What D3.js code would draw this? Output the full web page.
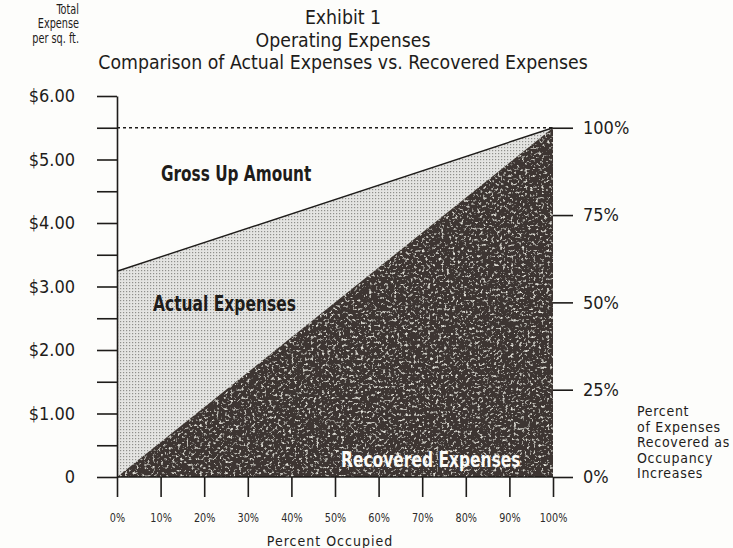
<!DOCTYPE html>
<html>
<head>
<meta charset="utf-8">
<script src="https://cdn.jsdelivr.net/npm/d3@7"></script>
<style>
  body { margin: 0; background: #fdfdfb; }
  svg text { font-family: "DejaVu Sans Condensed", "DejaVu Sans", sans-serif; fill: #1e1c1a; }
  .axis path, .axis line { stroke: #1e1c1a; stroke-width: 1.6; }
</style>
</head>
<body>
<div id="chart"></div>
<script>
// occupancy (percent) at the two ends of the lines
var occupancy = [0, 100];
// total actual expense per sq. ft. at each occupancy
var actualExpense = [3.24, 5.5];
// expense recovered from tenants at each occupancy
var recoveredExpense = [0, 5.5];
var grossUpLevel = 5.5;

var dollarTicks = [0, 0.5, 1, 1.5, 2, 2.5, 3, 3.5, 4, 4.5, 5, 5.5, 6];
var dollarLabels = {0: "0", 1: "$1.00", 2: "$2.00", 3: "$3.00", 4: "$4.00", 5: "$5.00", 6: "$6.00"};
var occTicks = [0, 10, 20, 30, 40, 50, 60, 70, 80, 90, 100];
var recoveredTicks = [0, 25, 50, 75, 100];

var width = 733, height = 548;

// squeeze text horizontally (the original uses a very condensed face)
function condense(sel, k) {
  sel.each(function() {
    var t = d3.select(this);
    var x0 = +t.attr("x") || 0;
    t.attr("x", x0 / k).attr("transform", "scale(" + k + ",1)");
  });
}

var svg = d3.select("#chart").append("svg")
    .attr("width", width)
    .attr("height", height);

var x = d3.scaleLinear().domain([0, 100]).range([117, 553]);
var y = d3.scaleLinear().domain([0, 6]).range([477, 96]);
// right axis: percent recovered, 100% = gross up level
var yPct = d3.scaleLinear().domain([0, 100]).range([y(0), y(grossUpLevel)]);

var defs = svg.append("defs");
var dots = defs.append("pattern")
    .attr("id", "stipple")
    .attr("width", 3).attr("height", 3)
    .attr("patternUnits", "userSpaceOnUse");
dots.append("rect").attr("width", 3).attr("height", 3).attr("fill", "#e4e4e2");
dots.append("rect").attr("width", 1.2).attr("height", 1.2).attr("fill", "#8f8f8c");

var f = defs.append("filter").attr("id", "speck").attr("x", 0).attr("y", 0).attr("width", 1).attr("height", 1);
f.append("feTurbulence").attr("type", "fractalNoise").attr("baseFrequency", 0.36)
  .attr("numOctaves", 3).attr("seed", 11).attr("result", "n");
f.append("feColorMatrix").attr("in", "n").attr("type", "matrix")
  .attr("values", "0 0 0 0 0.8  0 0 0 0 0.78  0 0 0 0 0.72  4 0 0 0 -2.3")
  .attr("result", "w");
f.append("feComposite").attr("in", "w").attr("in2", "SourceGraphic").attr("operator", "in").attr("result", "s");
var fm = f.append("feMerge");
fm.append("feMergeNode").attr("in", "SourceGraphic");
fm.append("feMergeNode").attr("in", "s");

var pts = occupancy.map(function(o, i) {
  return {occ: o, actual: actualExpense[i], recovered: recoveredExpense[i]};
});

// actual expenses band (between recovered line and actual line)
var band = d3.area()
    .x(function(d) { return x(d.occ); })
    .y0(function(d) { return y(d.recovered); })
    .y1(function(d) { return y(d.actual); });
svg.append("path").datum(pts).attr("d", band).attr("fill", "url(#stipple)");

// recovered expenses
var rec = d3.area()
    .x(function(d) { return x(d.occ); })
    .y0(y(0))
    .y1(function(d) { return y(d.recovered); });
svg.append("path").datum(pts).attr("d", rec)
    .attr("fill", "#3d3630")
    .attr("filter", "url(#speck)");

// actual expense line
svg.append("path").datum(pts)
    .attr("d", d3.line().x(function(d) { return x(d.occ); }).y(function(d) { return y(d.actual); }))
    .attr("fill", "none").attr("stroke", "#1e1c1a").attr("stroke-width", 1.4);

// gross up level, dotted
svg.append("line")
    .attr("x1", x(0)).attr("x2", x(100))
    .attr("y1", y(grossUpLevel)).attr("y2", y(grossUpLevel))
    .attr("stroke", "#1e1c1a").attr("stroke-width", 1.3)
    .attr("stroke-dasharray", "3,3");

// left axis
var yAxis = svg.append("g").attr("class", "axis")
    .attr("transform", "translate(" + x(0) + ",0)")
    .call(d3.axisLeft(y).tickValues(dollarTicks).tickSize(20).tickSizeOuter(0).tickPadding(22)
      .tickFormat(function(d) { return dollarLabels[d] || ""; }));
yAxis.selectAll("text").style("font-size", "18px");

// bottom axis
var xAxis = svg.append("g").attr("class", "axis")
    .attr("transform", "translate(0," + y(0) + ")")
    .call(d3.axisBottom(x).tickValues(occTicks).tickSize(20).tickSizeOuter(0).tickPadding(16)
      .tickFormat(function(d) { return d + "%"; }));
xAxis.select(".domain").remove();
xAxis.selectAll("line").attr("stroke-width", 1);
xAxis.selectAll("text").style("font-size", "12.5px").style("fill", "#2c2a28").call(condense, 0.86);
svg.append("line").attr("x1", x(0)).attr("x2", x(100)).attr("y1", y(0)).attr("y2", y(0))
    .attr("stroke", "#1e1c1a").attr("stroke-width", 1.6);

// right axis
var rAxis = svg.append("g").attr("class", "axis")
    .attr("transform", "translate(" + x(100) + ",0)")
    .call(d3.axisRight(yPct).tickValues(recoveredTicks).tickSize(20).tickSizeOuter(0).tickPadding(10)
      .tickFormat(function(d) { return d + "%"; }));
rAxis.select(".domain").remove();
rAxis.selectAll("text").style("font-size", "18px");

// titles
var title = ["Exhibit 1", "Operating Expenses", "Comparison of Actual Expenses vs. Recovered Expenses"];
svg.selectAll(".title").data(title).enter().append("text")
    .attr("class", "title")
    .attr("x", 343)
    .attr("y", function(d, i) { return 24 + i * 22.5; })
    .attr("text-anchor", "middle")
    .style("font-size", "19.3px")
    .text(function(d) { return d; });

var yTitle = ["Total", "Expense", "per sq. ft."];
svg.selectAll(".ytitle").data(yTitle).enter().append("text")
    .attr("x", 79)
    .attr("y", function(d, i) { return 14 + i * 14.5; })
    .attr("text-anchor", "end")
    .style("font-size", "13.5px")
    .text(function(d) { return d; })
    .call(condense, 0.8);

var rTitle = ["Percent", "of Expenses", "Recovered as", "Occupancy", "Increases"];
svg.selectAll(".rtitle").data(rTitle).enter().append("text")
    .attr("x", 637)
    .attr("y", function(d, i) { return 416 + i * 15.5; })
    .style("font-size", "14px")
    .style("letter-spacing", "0.7px")
    .text(function(d) { return d; });

svg.append("text").attr("x", 330).attr("y", 546)
    .attr("text-anchor", "middle")
    .style("font-size", "14px").style("letter-spacing", "1px")
    .text("Percent Occupied");

// area labels
svg.append("text").attr("x", 161).attr("y", 181)
    .style("font-size", "20.5px").style("font-weight", "bold")
    .text("Gross Up Amount").call(condense, 0.83);
svg.append("text").attr("x", 153).attr("y", 311)
    .style("font-size", "20.5px").style("font-weight", "bold")
    .text("Actual Expenses").call(condense, 0.84);
svg.append("text").attr("x", 341).attr("y", 467)
    .style("font-size", "20.5px").style("font-weight", "bold")
    .style("fill", "#fbfbf8")
    .text("Recovered Expenses").call(condense, 0.84);
</script>
</body>
</html>
